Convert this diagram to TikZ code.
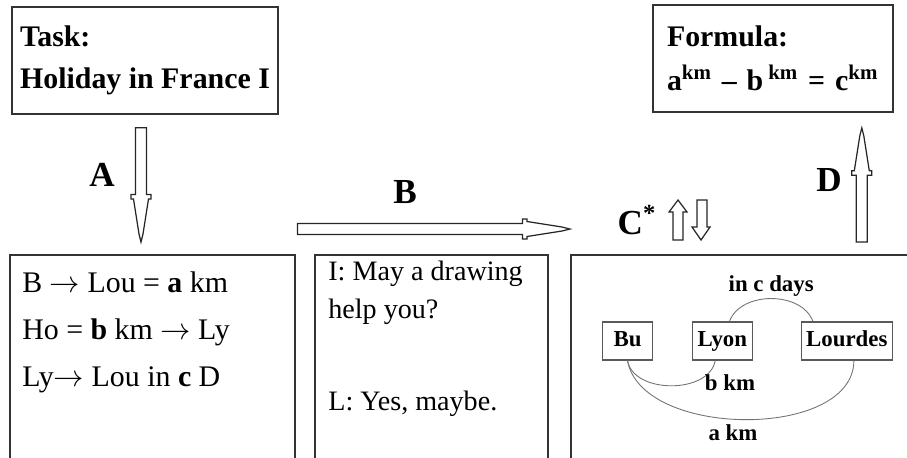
\documentclass[tikz,border=0pt]{standalone}
\usepackage{fontspec}
\setmainfont{Liberation Serif}
\usetikzlibrary{calc,positioning}

% hollow block arrow from #1 to #2 with a long pointed head
\newcommand{\hollowarrow}[2]{%
  \coordinate (hs) at #1;
  \coordinate (ht) at #2;
  \coordinate (hh) at ($(ht)!0.95cm!(hs)$);
  \coordinate (hm) at ($(ht)!0.86cm!(hs)$);
  \coordinate (hn) at ($(ht)!0.16cm!(hs)$);
  \draw[hollow] ($(hs)!0.11cm!90:(ht)$) -- ($(hh)!0.11cm!90:(ht)$) -- ($(hh)!0.2cm!90:(ht)$)
    -- ($(hm)!0.2cm!90:(ht)$) -- ($(hm)!0.15cm!90:(ht)$) -- ($(hn)!0.04cm!90:(ht)$) -- (ht)
    -- ($(hn)!0.04cm!-90:(ht)$) -- ($(hm)!0.15cm!-90:(ht)$) -- ($(hm)!0.2cm!-90:(ht)$)
    -- ($(hh)!0.2cm!-90:(ht)$) -- ($(hh)!0.11cm!-90:(ht)$) -- ($(hs)!0.11cm!-90:(ht)$) -- cycle;}

\begin{document}
\begin{tikzpicture}[
    font=\fontsize{17}{24}\selectfont,
    titlebox/.style={draw=black!80, line width=0.9pt, align=left, minimum height=2.14cm, font=\fontsize{17}{24}\selectfont\bfseries},
    panel/.style={draw=black!80, line width=0.9pt, anchor=north west, minimum height=5cm},
    paneltext/.style={anchor=north west, inner sep=0pt, align=left},
    steplabel/.style={font=\fontsize{20}{24}\selectfont\bfseries},
    town/.style={draw=black!65, line width=0.6pt, minimum width=1.0cm, minimum height=0.76cm, inner xsep=0.1cm,
      text height=0.7em, text depth=0.05em, font=\fontsize{13}{15}\selectfont\bfseries},
    route/.style={draw=black!55, line width=0.5pt},
    routelabel/.style={font=\fontsize{13}{15}\selectfont\bfseries},
    hollow/.style={draw=black!85, line width=0.7pt, fill=white}
  ]
    \useasboundingbox (0,0) rectangle (18.14,-9.14);
    \clip (0,0) rectangle (18.14,-9.14);

    \node[titlebox, minimum width=5.32cm] (task) at (2.9,-1.21) {Task:\\Holiday in France I};
    \node[titlebox, text width=4.24cm, inner xsep=0.28cm, font=\fontsize{17}{25}\selectfont\bfseries] (formula) at (15.46,-1.17)
      {Formula:\\a\textsuperscript{km} -- b\,\textsuperscript{km} = c\textsuperscript{km}};

    \node[panel, minimum width=5.7cm] (notes) at (0.18,-5.08) {};
    \node[panel, minimum width=4.66cm] (dialog) at (6.28,-5.08) {};
    \node[panel, minimum width=7cm] (sketch) at (11.4,-5.08) {};

    \node[paneltext, font=\fontsize{17}{26.7}\selectfont] (notestext) at ([shift={(0.26,-0.35)}]notes.north west)
      {B $\rightarrow$ Lou = \textbf{a} km\\Ho = \textbf{b} km $\rightarrow$ Ly\\Ly$\rightarrow$ Lou in \textbf{c} D};
    \node[paneltext, font=\fontsize{16}{21.6}\selectfont] (dialogtext) at ([shift={(0.28,-0.14)}]dialog.north west)
      {I: May a drawing\\help you?\\[30.8pt]L: Yes, maybe.};

    % steps
    \coordinate (a0) at ($(task.south)+(-0.08,-0.26)$);
    \coordinate (a1) at (a0 |- notes.north);
    \hollowarrow{(a0)}{($(a1)+(0,0.24)$)}
    \hollowarrow{($(notes.north east)+(0.04,0.5)$)}{($(sketch.north west)+(0,0.5)$)}
    \coordinate (d1) at ($(formula.south east)+(-0.64,-0.3)$);
    \coordinate (d0) at (d1 |- sketch.north);
    \hollowarrow{($(d0)+(0,0.24)$)}{(d1)}

    \node[steplabel] (stepa) at (2.04,-3.5) {A};
    \node[steplabel] (stepb) at (8.1,-3.84) {B};
    \node[steplabel] (stepc) at (12.74,-4.4) {C\textsuperscript{*}};
    \node[steplabel] (stepd) at (16.58,-3.6) {D};

    % C* up and down
    \draw[hollow] (13.46,-4.80) -- (13.46,-4.24) -- (13.38,-4.24) -- (13.56,-4.00) -- (13.74,-4.24) -- (13.66,-4.24) -- (13.66,-4.80) -- cycle;
    \draw[hollow] (13.94,-4.00) -- (13.94,-4.54) -- (13.84,-4.54) -- (14.02,-4.80) -- (14.20,-4.54) -- (14.14,-4.54) -- (14.14,-4.00) -- cycle;

    % drawing of the route
    \node[town] (bu) at (12.55,-6.82) {Bu};
    \node[town, right=0.78cm of bu] (lyon) {Lyon};
    \node[town, right=0.96cm of lyon] (lourdes) {Lourdes};

    \draw[route] (lyon.70) to[out=70, in=110] node[above, inner sep=1pt, routelabel] (days) {in c days} (lourdes.150);
    \draw[route] (bu.south) to[out=-80, in=-100] (lyon.250);
    \draw[route] (bu.south) to[out=-80, in=-90, looseness=0.9] (lourdes.290);
    \node[routelabel] (bkm) at (14.6,-7.66) {b km};
    \node[routelabel] (akm) at (14.66,-8.66) {a km};
  \end{tikzpicture}
\end{document}
